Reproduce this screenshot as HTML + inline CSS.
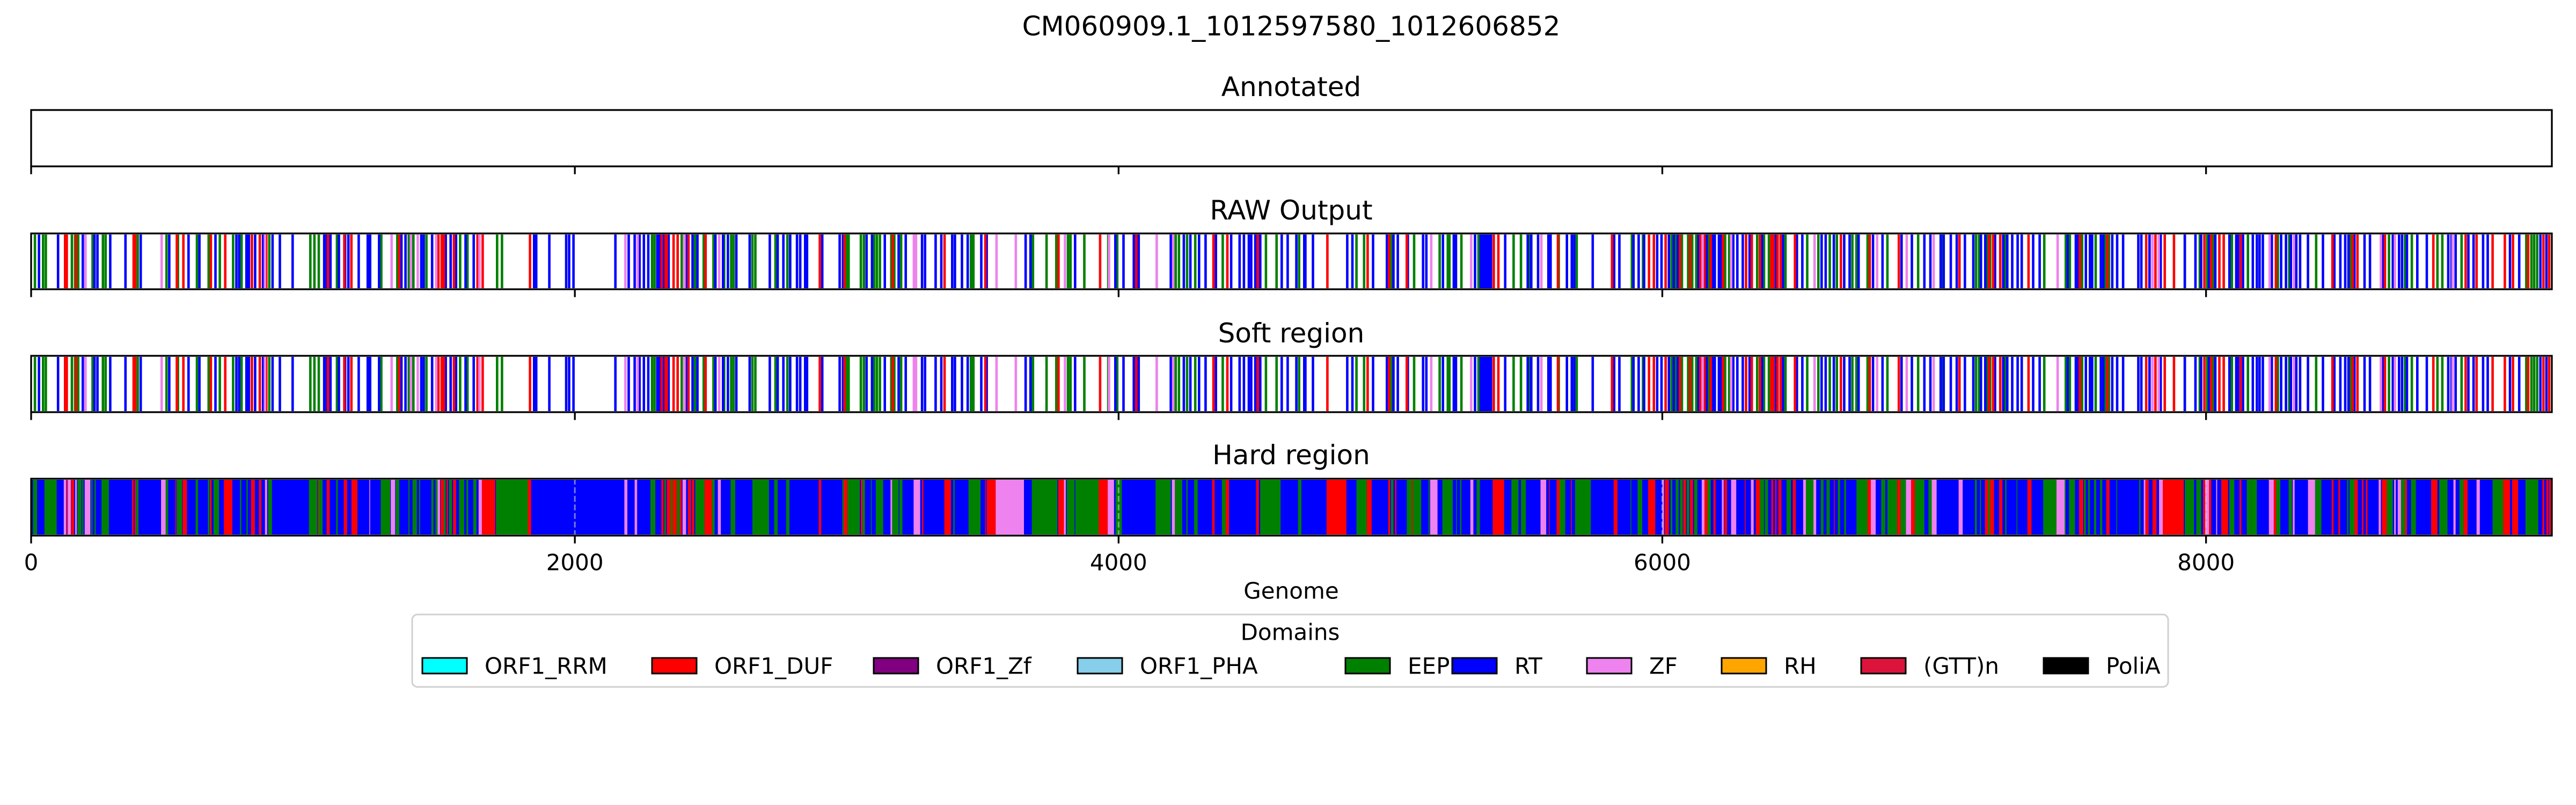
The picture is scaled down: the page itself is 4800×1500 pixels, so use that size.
<!DOCTYPE html>
<html><head><meta charset="utf-8"><title>CM060909.1_1012597580_1012606852</title>
<style>
html,body{margin:0;padding:0;background:#fff;}
svg{display:block;}
text{font-family:"DejaVu Sans","Liberation Sans",sans-serif;fill:#000;}
</style></head>
<body>
<svg id="chart" xmlns="http://www.w3.org/2000/svg" width="4800" height="1500" viewBox="0 0 4800 1500">
<rect x="0" y="0" width="4800" height="1500" fill="#fff"/>
<text x="2406" y="49" font-size="50" text-anchor="middle" dominant-baseline="central">CM060909.1_1012597580_1012606852</text>
<text x="2406" y="162" font-size="50" text-anchor="middle" dominant-baseline="central">Annotated</text>
<text x="2406" y="392" font-size="50" text-anchor="middle" dominant-baseline="central">RAW Output</text>
<text x="2406" y="621" font-size="50" text-anchor="middle" dominant-baseline="central">Soft region</text>
<text x="2406" y="848" font-size="50" text-anchor="middle" dominant-baseline="central">Hard region</text>
<text x="2406" y="1101" font-size="42" text-anchor="middle" dominant-baseline="central">Genome</text>
<g id="plots"></g>
<g id="legend">
<rect x="768" y="1145" width="3272" height="135" rx="10" fill="#fff" stroke="#d0d0d0" stroke-width="3"/>
<text x="2404" y="1178" font-size="42" text-anchor="middle" dominant-baseline="central">Domains</text>
</g>
</svg>
<script>
// ---- data ----
const genomeMin = 0;
const genomeMax = 9272;
const tickValues = [0, 2000, 4000, 6000, 8000];
const tickLabels = ["0", "2000", "4000", "6000", "8000"];
const legendLabels = ["ORF1_RRM","ORF1_DUF","ORF1_Zf","ORF1_PHA","EEP","RT","ZF","RH","(GTT)n","PoliA"];
const legendColors = ["#00ffff","#ff0000","#800080","#87ceeb","#008000","#0000ff","#ee82ee","#ffa500","#dc143c","#000000"];

const rawGreen = [14,44,54,150,162,173,226,264,274,392,498,540,610,653,694,743,774,876,1027,1042,1058,1125,1288,1347,1389,1406,1454,1578,1605,1714,1732,2284,2293,
2393,2442,2474,2510,2549,2575,2584,2653,2664,2738,2782,2998,3007,3052,3063,3101,3111,3122,3164,3175,3200,3457,3466,3685,3735,3771,3814,3823,3874,3962,3995,4140,4210,4222,4252,4282,4383,4542,4581,4664,
4875,4903,5004,5087,5181,5211,5217,5261,5324,5453,5480,5510,5619,5685,5888,5929,6034,6049,6072,6095,6110,6125,6170,6231,6246,6349,6374,6392,6453,6533,6574,6616,6642,6699,6714,6755,6828,6941,7032,
7154,7165,7194,7206,7261,7405,7484,7499,7544,7594,7631,7643,7922,7977,8004,8026,8095,8154,8264,8306,8405,8531,8673,8732,8757,8851,8869,8940,9178,9197,9207,9218];
const rawBlue = [29,99,190,233,244,291,347,403,508,579,619,678,755,765,792,801,824,853,888,915,962,1078,1087,1101,1132,1155,1167,1205,1238,1247,1280,1362,1377,1435,1444,1475,1525,1543,1563,1598,1628,1850,1858,1906,1968,1979,1995,2149,2198,2220,2238,2254,2270,2303,2312,2326,2344,
2345,2412,2433,2451,2517,2545,2563,2594,2643,2717,2746,2767,2792,2817,2829,2847,2854,2910,2974,2986,3073,3093,3140,3191,3217,3277,3288,3327,3348,3388,3398,3424,3445,3495,3515,3658,3676,3840,3988,4018,4056,4074,4192,4240,4264,4296,4320,4358,4414,4445,4461,4479,4488,4503,4521,4600,4622,4654,4683,
4687,4715,4841,4860,4936,4987,5011,5027,5064,5120,5132,5193,5233,5241,5311,5332,5339,5347,5354,5362,5370,5422,5505,5518,5543,5581,5589,5649,5667,5676,5744,5823,5842,5894,5913,5933,5981,5997,6024,6042,6057,6133,6163,6185,6193,6208,6216,6261,6276,6296,6321,6367,6417,6444,6495,6515,6586,6601,6631,6669,6689,6722,6775,6810,6880,6918,6964,6986,7024,
7035,7061,7083,7113,7144,7172,7188,7224,7254,7269,7287,7307,7322,7364,7388,7491,7521,7529,7558,7573,7581,7613,7622,7655,7673,7695,7751,7762,7792,7833,7922,7961,7982,8011,8034,8086,8111,8118,8136,8172,8187,8197,8209,8242,8276,8294,8312,8332,8346,8375,8430,8472,8494,8512,8524,8546,8583,8603,8650,8687,8710,8721,8739,8777,8812,8891,8903,8918,8965,8984,9019,9036,9118,9152,9230,9252];
const rawRed = [125,131,165,377,383,536,560,661,714,812,841,865,1092,1152,1178,1354,1498,1510,1518,1555,1642,1661,1835,2319,2334,
2338,2363,2378,2418,2481,2901,2992,3169,3360,3510,3779,3932,4065,4349,4400,4512,
4768,4916,4995,5060,5380,5397,5616,5815,5951,5969,6012,6065,6102,6140,6155,6178,6223,6308,6329,6359,6401,6409,6424,6435,6488,6657,6763,6870,
7093,7202,7217,7243,7347,7536,7637,7780,7814,7848,7882,7994,8019,8049,8065,8127,8257,8465,8539,8557,8658,8836,8955,8995,9054,9099,9129,9185,9241,9262];
const rawViolet = [200,480,860,1326,1397,1422,1490,1649,2186,2231,2403,2531,3247,3255,3551,3622,3803,3965,4140,4201,
5150,5297,5555,6148,6253,6560,6790,6899,6998,7454,7803,7826,8234,8323,8643,8695,8907];

const hardBlue = [[0,9272]];
const hardGreen = [[7,22],[49,94],[170,185],[188,193],[221,226],[233,238],[259,286],[386,395],[495,504],[536,555],[605,614],[650,656],[671,691],[768,773],[792,797],[872,886],[1022,1052],[1057,1072],[1122,1128],[1286,1321],[1341,1354],[1388,1392],[1403,1419],[1427,1431],[1472,1480],[1487,1495],[1518,1525],[1537,1548],[1574,1593],[1601,1608],[1626,1638],[1710,1827],[2278,2296],[2329,2335],
[2341,2360],[2375,2386],[2443,2477],[2504,2514],[2573,2590],[2653,2714],[2733,2746],[2777,2789],[2984,2989],[3002,3048],[3058,3067],[3089,3092],[3107,3134],[3167,3191],[3194,3205],[3392,3397],[3448,3492],[3681,3775],[3809,3838],[3841,3927],[3989,4012],[4136,4192],[4207,4234],[4249,4254],[4278,4291],[4380,4394],[4521,4596],[4660,4672],
[4875,4913],[5002,5011],[5060,5078],[5082,5113],[5140,5144],[5191,5229],[5241,5244],[5256,5261],[5317,5329],[5445,5471],[5480,5498],[5622,5643],[5679,5737],[5883,5886],[5909,5926],[6030,6037],[6049,6060],[6065,6075],[6090,6099],[6117,6129],[6166,6178],[6359,6374],[6377,6389],[6457,6473],[6528,6556],[6583,6593],[6604,6616],[6646,6654],[6669,6676],[6714,6755],[6805,6820],[6828,6864],[6876,6896],[6929,6964],[6979,6991],
[7150,7157],[7168,7172],[7199,7206],[7261,7266],[7303,7306],[7401,7450],[7480,7484],[7496,7518],[7551,7558],[7566,7573],[7588,7596],[7610,7618],[7670,7673],[7754,7759],[7922,7956],[7964,7982],[8086,8104],[8150,8167],[8167,8187],[8258,8273],[8304,8316],[8401,8424],[8519,8524],[8528,8546],[8665,8687],[8717,8732],[8754,8772],[8858,8888],[8932,8947],[9054,9093],[9175,9222]];
const hardRed = [[131,135],[147,158],[371,377],[381,386],[531,534],[557,573],[658,664],[709,740],[809,823],[838,847],[1054,1057],[1087,1098],[1150,1162],[1178,1200],[1506,1518],[1528,1533],[1552,1563],[1658,1707],[1827,1839],[2318,2326],[2341,2353],
[2338,2341],[2360,2375],[2386,2393],[2416,2427],[2431,2439],[2477,2504],[2897,2906],[2989,3002],[3052,3058],[3277,3282],[3359,3383],[3509,3512],[3515,3548],[3778,3799],[3927,3960],[4344,4353],[4394,4406],[4506,4516],
[4765,4838],[4913,4931],[4992,4999],[5017,5022],[5078,5082],[5376,5418],[5583,5586],[5611,5622],[5664,5667],[5821,5835],[5948,5974],[6009,6024],[6077,6087],[6102,6113],[6155,6166],[6188,6196],[6228,6238],[6303,6306],[6344,6359],[6401,6408],[6415,6420],[6427,6438],[6480,6491],[6631,6634],[6755,6767],[6864,6876],[6915,6929],
[7187,7199],[7206,7220],[7239,7251],[7343,7358],[7533,7548],[7633,7645],[7777,7789],[7803,7818],[7841,7918],[7989,7997],[8011,8019],[8056,8081],[8123,8130],[8249,8258],[8462,8469],[8487,8493],[8546,8558],[8573,8579],[8588,8594],[8647,8665],[8732,8739],[8828,8851],[8947,8962],[9093,9118],[9126,9148],[9237,9244],[9252,9259],[9262,9271]];
const hardViolet = [[120,129],[135,146],[162,168],[197,218],[478,495],[860,868],[1244,1247],[1323,1339],[1495,1504],[1646,1658],[2182,2193],[2220,2229],
[2396,2409],[2526,2537],[3161,3167],[3246,3270],[3548,3652],[3799,3806],[3960,3983],[4196,4207],
[5146,5173],[5294,5305],[5552,5573],[6000,6006],[6145,6155],[6219,6226],[6253,6272],[6326,6336],[6518,6528],[6556,6566],[6767,6785],[6896,6915],[6991,7009],
[7090,7105],[7450,7480],[7771,7777],[7827,7841],[7997,8011],[8037,8041],[8231,8249],[8319,8326],[8375,8401],[8635,8643],[8692,8698],[8705,8717],[8910,8918],[8995,9007]];

// ---- layout ----
const NS = "http://www.w3.org/2000/svg";
const X0 = 58, X1 = 4755;
const STRIPE = 9;
function xs(v){ return X0 + (v - genomeMin) / (genomeMax - genomeMin) * (X1 - X0); }
const rows = [
  {key:"annotated", top:205, bot:310},
  {key:"raw-output", top:435, bot:539},
  {key:"soft-region", top:663, bot:768},
  {key:"hard-region", top:892, bot:998}
];
const plots = document.getElementById("plots");
function mk(tag, attrs, parent){
  const e = document.createElementNS(NS, tag);
  for (const k in attrs) e.setAttribute(k, attrs[k]);
  parent.appendChild(e);
  return e;
}
function drawStripes(g, arr, color, row, name){
  arr.forEach(function(v){
    const x = xs(v - STRIPE/2), w = xs(v + STRIPE/2) - x;
    const r = mk("rect", {x:x.toFixed(1), y:row.top+2, width:w.toFixed(1), height:row.bot-row.top-4, fill:color}, g);
    
    
  });
}
function drawSegs(g, arr, color, row, name){
  arr.forEach(function(s){
    const x = xs(s[0]), w = Math.max(1, xs(s[1]) - x);
    const r = mk("rect", {x:x.toFixed(1), y:row.top+2, width:w.toFixed(1), height:row.bot-row.top-4, fill:color}, g);
    
    
  });
}
rows.forEach(function(row, i){
  const g = mk("g", {}, plots);
  
  
  if (row.key === "raw-output" || row.key === "soft-region"){
    drawStripes(g, rawGreen, "#008000", row, "eep-stripe");
    drawStripes(g, rawBlue, "#0000ff", row, "rt-stripe");
    drawStripes(g, rawRed, "#ff0000", row, "orf1-duf-stripe");
    drawStripes(g, rawViolet, "#ee82ee", row, "zf-stripe");
  }
  if (row.key === "hard-region"){
    drawSegs(g, hardBlue, "#0000ff", row, "rt-segment");
    drawSegs(g, hardGreen, "#008000", row, "eep-segment");
    drawSegs(g, hardRed, "#ff0000", row, "orf1-duf-segment");
    drawSegs(g, hardViolet, "#ee82ee", row, "zf-segment");
    tickValues.forEach(function(t){
      if (t === 0) return;
      const l = mk("line", {x1:xs(t), x2:xs(t), y1:row.top, y2:row.bot, stroke:"rgba(200,200,200,0.6)", "stroke-width":3, "stroke-dasharray":"11 5"}, g);
      
      
    });
  }
  const frame = mk("rect", {x:X0, y:row.top, width:X1-X0, height:row.bot-row.top, fill:"none", stroke:"#000", "stroke-width":3.3}, g);
  
  
  tickValues.forEach(function(t, j){
    const tk = mk("line", {x1:xs(t), x2:xs(t), y1:row.bot, y2:row.bot+14.6, stroke:"#000", "stroke-width":3.3}, g);
    
    
    if (i === rows.length - 1){
      const tx = mk("text", {x:xs(t), y:row.bot+50, "font-size":42, "text-anchor":"middle", "dominant-baseline":"central"}, g);
      tx.textContent = tickLabels[j];
      
      
    }
  });
});
// legend entries
const legend = document.getElementById("legend");
const patchX = [787,1215,1628,2008,2507,2706,2957,3208,3468,3808];
legendLabels.forEach(function(lab, i){
  const g = mk("g", {}, legend);
  
  
  const p = mk("rect", {x:patchX[i], y:1226, width:83, height:29, fill:legendColors[i], stroke:"#000", "stroke-width":3}, g);
  
  
  const t = mk("text", {x:patchX[i]+116, y:1241, "font-size":42, "dominant-baseline":"central"}, g);
  t.textContent = lab;
  
  
});
</script>
</body></html>
